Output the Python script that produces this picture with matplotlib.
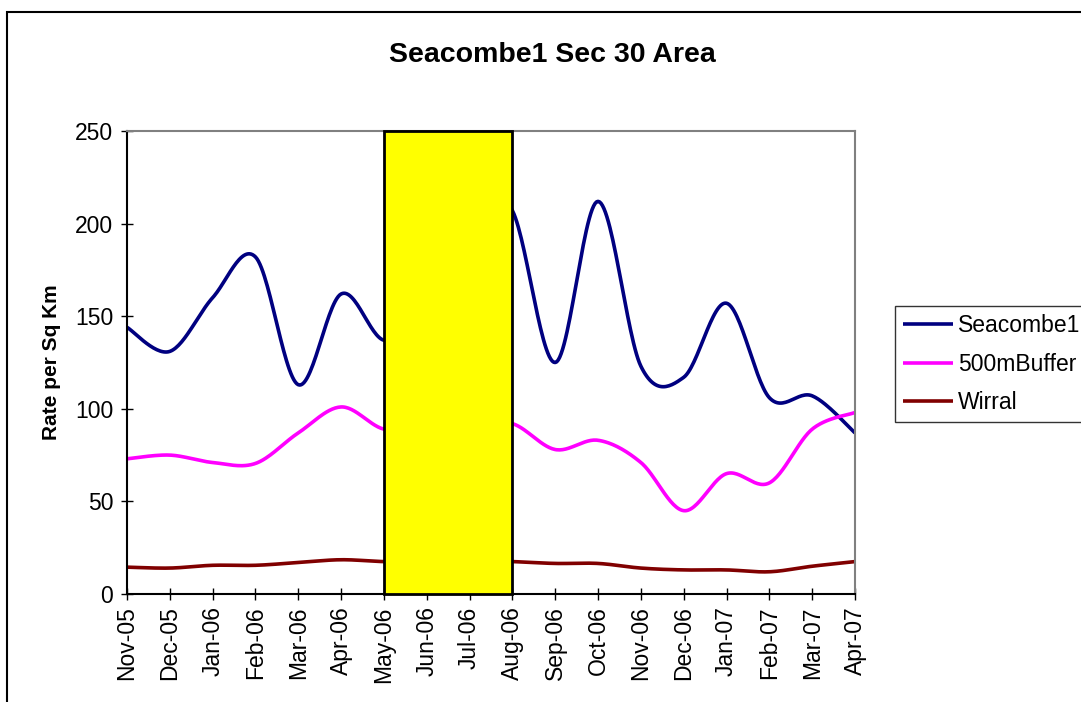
import numpy as np
import matplotlib
matplotlib.use("Agg")
import matplotlib.pyplot as plt
from matplotlib.patches import Rectangle

plt.rcParams["font.family"] = ["Liberation Sans", "DejaVu Sans"]

months = ["Nov-05", "Dec-05", "Jan-06", "Feb-06", "Mar-06", "Apr-06", "May-06",
          "Jun-06", "Jul-06", "Aug-06", "Sep-06", "Oct-06", "Nov-06", "Dec-06",
          "Jan-07", "Feb-07", "Mar-07", "Apr-07"]

seacombe1 = [144, 131, 160, 182, 113, 162, 137, 150, 215, 207, 125, 212, 123, 117,
             157, 106, 107, 87]
buffer500 = [73, 75, 71, 70.5, 87, 101, 89, 90, 92, 92, 78, 83, 71, 45, 65, 60, 89, 98]
wirral = [14.5, 14, 15.5, 15.5, 17, 18.5, 17.5, 17.5, 18, 17.5, 16.5, 16.5, 14, 13,
          13, 12, 15, 17.5]

series = [("Seacombe1", seacombe1, "#000080"),
          ("500mBuffer", buffer500, "#FF00FF"),
          ("Wirral", wirral, "#800000")]

# months hidden behind the highlight box
box_start, box_end = "May-06", "Aug-06"


def smooth(y, steps=30):
    # bezier smoothing through every point, like a spreadsheet "smoothed line"
    y = np.asarray(y, dtype=float)
    x = np.arange(len(y), dtype=float)
    px = np.concatenate([[x[0]], x, [x[-1]]])
    py = np.concatenate([[y[0]], y, [y[-1]]])
    xs, ys = [], []
    t = np.linspace(0, 1, steps)
    for i in range(len(y) - 1):
        p0 = np.array([px[i + 1], py[i + 1]])
        p3 = np.array([px[i + 2], py[i + 2]])
        p1 = p0 + (np.array([px[i + 2], py[i + 2]]) - np.array([px[i], py[i]])) / 6
        p2 = p3 - (np.array([px[i + 3], py[i + 3]]) - np.array([px[i + 1], py[i + 1]])) / 6
        b = ((1 - t) ** 3)[:, None] * p0 + (3 * (1 - t) ** 2 * t)[:, None] * p1 \
            + (3 * (1 - t) * t ** 2)[:, None] * p2 + (t ** 3)[:, None] * p3
        xs.extend(b[:, 0])
        ys.extend(b[:, 1])
    return np.array(xs), np.array(ys)


fig = plt.figure(figsize=(10.81, 7.02), dpi=100)
ax = fig.add_axes([127 / 1081, 1 - 594 / 702, (855 - 127) / 1081, (594 - 131) / 702])

for name, vals, col in series:
    sx, sy = smooth(vals)
    ax.plot(sx, sy, color=col, lw=2.6, label=name, solid_capstyle="butt")

i0, i1 = months.index(box_start), months.index(box_end)
ax.add_patch(Rectangle((i0, 0), i1 - i0, 250, facecolor="#FFFF00",
                       edgecolor="black", lw=2, zorder=5, clip_on=False))

ax.set_xlim(0, len(months) - 1)
ax.set_ylim(0, 250)
ax.set_xticks(range(len(months)))
ax.set_xticklabels(months, rotation=90)
ax.set_yticks(range(0, 251, 50))
ax.tick_params(direction="inout", length=8, width=1, labelsize=16.5, pad=5)
ax.tick_params(axis="y", pad=6)

ax.spines["left"].set_color("black")
ax.spines["bottom"].set_color("black")
ax.spines["top"].set_color("#808080")
ax.spines["right"].set_color("#808080")
for s in ax.spines.values():
    s.set_linewidth(1.5)

ax.set_ylabel("Rate per Sq Km", fontsize=15, fontweight="bold", labelpad=10)
fig.text(552 / 1081, 1 - 55 / 702, "Seacombe1 Sec 30 Area", fontsize=20.5,
         fontweight="bold", ha="center", va="center")

leg = ax.legend(loc="upper left", bbox_to_anchor=(895 / 1081, 1 - 306 / 702),
                bbox_transform=fig.transFigure, fontsize=16.5, frameon=True,
                fancybox=False, edgecolor="black", handlelength=2.2,
                handletextpad=0.2, labelspacing=0.68, borderpad=0.35,
                borderaxespad=0)
leg.get_frame().set_linewidth(1)

# outer chart border
fig.patches.append(Rectangle((7 / 1081, -0.1), 1.2, 1.1 - 12 / 702, fill=False,
                             edgecolor="black", lw=1.5, transform=fig.transFigure))

fig.savefig("out.png", dpi=100)
